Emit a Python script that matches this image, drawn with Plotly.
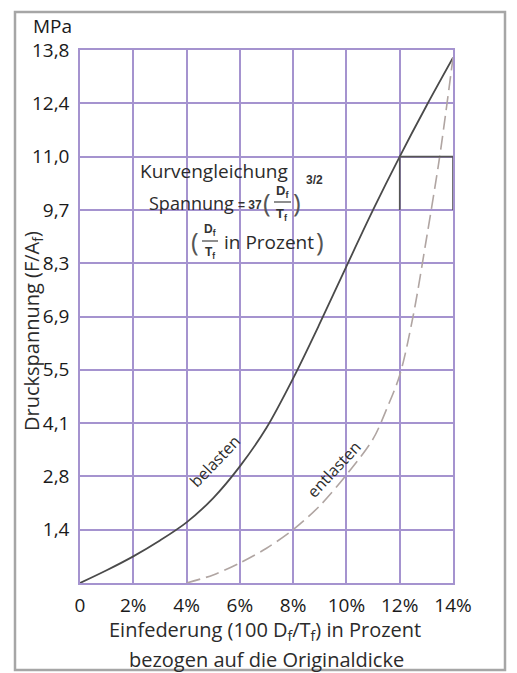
import plotly.graph_objects as go

# ---------------- data ----------------
load_strain = [0, 1, 2, 3, 4, 5, 6, 7, 8, 9, 10, 11, 12, 13, 14]
load_mpa = [0, 0.33, 0.69, 1.1, 1.57, 2.2, 3.02, 4.02, 5.3, 6.72, 8.2, 9.66, 11.04, 12.35, 13.6]

unload_strain = [4, 5, 6, 7, 8, 9, 10, 11, 11.5, 12, 12.5, 13, 13.5, 14]
unload_mpa = [0, 0.21, 0.52, 0.9, 1.38, 2.0, 2.8, 3.73, 4.49, 5.38, 6.9, 8.9, 11.04, 13.6]

box_strain = [12, 12, 14, 14]
box_mpa = [9.66, 11.04, 11.04, 9.66]

x_tickvals = [0, 2, 4, 6, 8, 10, 12, 14]
x_ticktext = ["0", "2%", "4%", "6%", "8%", "10%", "12%", "14%"]
y_tickvals = [1.38, 2.76, 4.14, 5.52, 6.9, 8.28, 9.66, 11.04, 12.42, 13.8]
y_ticktext = ["1,4", "2,8", "4,1", "5,5", "6,9", "8,3", "9,7", "11,0", "12,4", "13,8"]

# ---------------- layout helpers ----------------
W, H = 517, 673
L, R, T, B = 80, 453, 50, 583
FONT = "Open Sans"
GRID = "#a593cf"


def px_x(x):
    return (x - L) / (R - L)


def px_y(y):
    return (B - y) / (B - T)


fig = go.Figure()

fig.add_trace(go.Scatter(
    x=load_strain, y=load_mpa, mode="lines",
    line=dict(color="#4a4a4a", width=1.8, shape="spline", smoothing=0.9),
    showlegend=False, hoverinfo="skip"))

fig.add_trace(go.Scatter(
    x=unload_strain, y=unload_mpa, mode="lines",
    line=dict(color="#b0a5a2", width=1.6, dash="14px,6px", shape="spline", smoothing=0.9),
    showlegend=False, hoverinfo="skip"))

fig.add_trace(go.Scatter(
    x=box_strain, y=box_mpa, mode="lines",
    line=dict(color="#555555", width=1.6),
    showlegend=False, hoverinfo="skip"))

ann = []


def text(x, y, s, size=20, color="#2b2b2b", family=FONT, angle=0, xanchor="center"):
    ann.append(dict(x=px_x(x), y=px_y(y), xref="paper", yref="paper", text=s,
                    showarrow=False, textangle=angle, xanchor=xanchor, yanchor="middle",
                    font=dict(size=size, color=color, family=family)))


text(52, 26, "MPa", size=19, color="#1a1a1a")
text(32, 331, "Druckspannung (F/A<sub>f</sub>)", size=20, angle=-90)
text(265, 630, "Einfederung (100 D<sub>f</sub>/T<sub>f</sub>) in Prozent", size=20)
text(266, 659, "bezogen auf die Originaldicke", size=20)

# formula block
text(214, 171, "Kurvengleichung", size=19)
text(191, 203, "Spannung", size=18)
text(250, 205, "<b>= 37</b>", size=12, family="Arial", color="#333")
text(267, 202, "(", size=26, color="#555")
text(282, 192, "<b>D<sub>f</sub></b>", size=13, family="Arial", color="#333")
text(282, 214, "<b>T<sub>f</sub></b>", size=13, family="Arial", color="#333")
text(297, 202, ")", size=26, color="#555")
text(314, 180, "<b>3/2</b>", size=12, family="Arial", color="#333")

text(195, 241, "(", size=26, color="#555")
text(210, 230, "<b>D<sub>f</sub></b>", size=12, family="Arial", color="#333")
text(210, 253, "<b>T<sub>f</sub></b>", size=12, family="Arial", color="#333")
text(269, 242, "in Prozent", size=19)
text(320, 241, ")", size=26, color="#555")

# curve labels
text(215, 461, "belasten", size=16, angle=-46)
text(334, 469, "entlasten", size=16, angle=-47)

shapes = [
    dict(type="rect", xref="paper", yref="paper",
         x0=px_x(15), x1=px_x(505), y0=px_y(670), y1=px_y(12),
         line=dict(color="#a6a6a6", width=2.5), fillcolor="rgba(0,0,0,0)", layer="below"),
    dict(type="line", xref="paper", yref="paper",
         x0=px_x(274), x1=px_x(291), y0=px_y(202), y1=px_y(202),
         line=dict(color="#444", width=1.2)),
    dict(type="line", xref="paper", yref="paper",
         x0=px_x(202), x1=px_x(218), y0=px_y(241), y1=px_y(241),
         line=dict(color="#444", width=1.2)),
]

fig.update_layout(
    width=W, height=H,
    margin=dict(l=L, r=W - R, t=T, b=H - B, pad=0),
    paper_bgcolor="white", plot_bgcolor="white",
    annotations=ann, shapes=shapes,
    font=dict(family=FONT, size=19, color="#1a1a1a"),
    xaxis=dict(range=[0, 14], tickvals=x_tickvals, ticktext=x_ticktext,
               showgrid=True, gridcolor=GRID, gridwidth=1.5, zeroline=False,
               showline=True, linecolor=GRID, linewidth=1.5, mirror=True,
               ticks="", ticklabelstandoff=4, tickfont=dict(size=19, family=FONT, color="#1a1a1a")),
    yaxis=dict(range=[0, 13.8], tickvals=y_tickvals, ticktext=y_ticktext,
               showgrid=True, gridcolor=GRID, gridwidth=1.5, zeroline=False,
               showline=True, linecolor=GRID, linewidth=1.5, mirror=True,
               ticks="", ticklabelstandoff=5, tickfont=dict(size=19, family=FONT, color="#1a1a1a")),
)

fig.write_html("out.html", config={"displayModeBar": False},
               post_script="document.body.style.margin='0';document.body.style.padding='0';"
                           "document.body.style.overflow='hidden';")
